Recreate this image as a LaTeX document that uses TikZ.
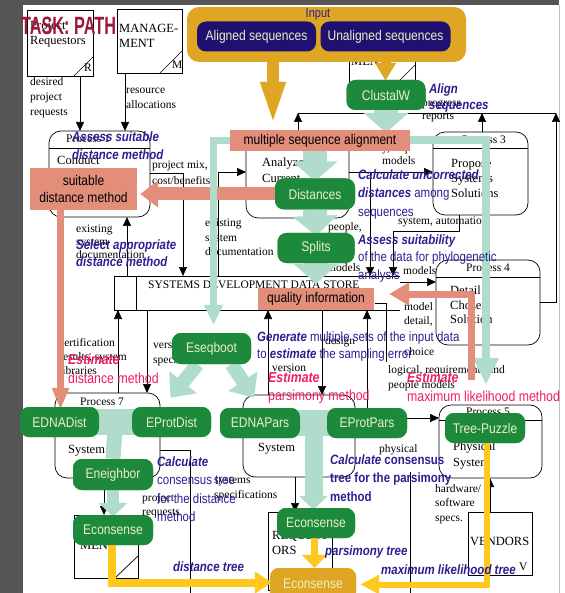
\documentclass[tikz,border=0pt]{standalone}
\usepackage{fontspec}
\setmainfont{Liberation Serif}
\newfontfamily\pillf[FakeStretch=0.86]{Liberation Sans}
\newfontfamily\condf[FakeStretch=0.85]{Liberation Sans}
\newfontfamily\titlef[FakeStretch=0.65]{Liberation Sans}
\usetikzlibrary{arrows.meta,calc}
\definecolor{navytxt}{RGB}{45,30,145}
\definecolor{pillnavy}{RGB}{32,16,112}
\definecolor{pillgreen}{RGB}{28,138,58}
\definecolor{pilltext}{RGB}{238,238,196}
\definecolor{salmonc}{RGB}{226,142,122}
\definecolor{tealc}{RGB}{176,220,204}
\definecolor{goldbox}{RGB}{222,166,34}
\definecolor{goldarrow}{RGB}{255,200,28}
\definecolor{magtxt}{RGB}{238,30,96}
\definecolor{titlered}{RGB}{160,22,56}
\definecolor{darkbg}{RGB}{85,85,85}
\begin{document}
\begin{tikzpicture}[x=1pt,y=-1pt,
  bgt/.style={font=\fontsize{11.5}{14}\selectfont, inner sep=0pt, anchor=west, align=left},
  bxt/.style={font=\fontsize{12.5}{15.5}\selectfont, inner sep=0pt, anchor=north west, align=left},
  ln/.style={line width=0.7pt, draw=black},
  fl/.style={ln, -{Triangle[length=9pt,width=8pt]}},
  proc/.style={ln, rounded corners=12pt},
  pill/.style={rounded corners=9pt, fill=pillgreen, text=pilltext, font=\pillf\fontsize{14}{16}\selectfont, inner sep=0pt, minimum height=30pt, minimum width=79pt},
  npill/.style={pill, fill=pillnavy},
  gpill/.style={pill, fill=goldbox},
  salbox/.style={fill=salmonc, text=black, font=\pillf\fontsize{14}{17}\selectfont, inner sep=0pt, align=center},
  lab/.style={text=navytxt, font=\condf\fontsize{13.5}{18}\selectfont, inner sep=0pt, anchor=north west, align=left},
  est/.style={text=magtxt, font=\condf\fontsize{14.5}{19}\selectfont, inner sep=0pt, anchor=north west, align=left},
  tfat/.style={draw=tealc, line width=24pt, -{Triangle[length=20pt,width=44pt]}},
  tdiag/.style={draw=tealc, line width=14pt, -{Triangle[length=20pt,width=34pt]}},
]
\useasboundingbox (0,0) rectangle (564,593);
\fill[white] (0,0) rectangle (564,593);
\fill[darkbg] (0,0) rectangle (23,593);
\fill[darkbg] (0,0) rectangle (559,5);
\draw[gray!50, line width=1pt] (559.5,5) -- (559.5,593);

% ---------------- background DFD ----------------
\draw[ln] (27,10) rectangle (93,76); \draw[ln] (74,76) -- (93,57);
\node[bgt] (tR) at (84,68) {R};
\node[bxt] (treq) at (30,21) {Project\\Requestors};
\draw[ln] (117,9) rectangle (182,73); \draw[ln] (160,73) -- (182,51);
\node[bgt] (tM) at (172,65) {M};
\node[bxt] (tman) at (119,24) {MANAGE-\\MENT};
\draw[ln] (349,30) rectangle (415,82); \draw[ln] (398,82) -- (415,65);
\node[bxt] (tman2) at (351,42) {MANAGE-\\MENT};

\draw[fl] (80,76) -- (80,131);
\draw[fl] (125,73) -- (125,131);
\node[bgt, anchor=north west, align=left, font=\fontsize{11.5}{15}\selectfont] (tdes) at (30,77) {desired\\project\\requests};
\node[bgt, anchor=north west, font=\fontsize{11.5}{14.5}\selectfont] (tres) at (126,88) {resource\\allocations};

\draw[proc] (49,131) rectangle (150,217); \draw[ln] (49,148) -- (150,148);
\node[bgt] (tp1) at (66,139) {Process 1};
\node[bxt] (tp1b) at (57,156) {Conduct\\Feasibility\\Study};
\draw[fl] (150,173) -- (183,173) -- (183,276);
\node[bgt, anchor=north west, font=\fontsize{11.5}{15.5}\selectfont] (tmix) at (152,161) {project mix,\\cost/benefits};
\draw[fl] (127,276) -- (127,217);
\node[bgt, anchor=north west, font=\fontsize{11.5}{13}\selectfont] (tex1) at (76,225) {existing\\system\\documentation};

\draw[proc] (246,131) rectangle (349,218); \draw[ln] (246,148) -- (349,148);
\node[bxt] (tp2b) at (262,158) {Analyze\\Current\\System};
\draw[fl] (218,276) -- (218,172) -- (246,172);
\node[bgt, anchor=north west, font=\fontsize{11.5}{14.5}\selectfont] (tex2) at (205,219) {existing\\system\\documentation};

\draw[proc] (433,132) rectangle (528,215); \draw[ln] (433,148) -- (528,148);
\node[bgt] (tp3) at (462,140) {Process 3};
\node[bxt, font=\fontsize{12.5}{15}\selectfont] (tp3b) at (451,159) {Propose\\Systems\\Solutions};

\draw[ln] (298,113) -- (556,113);
\draw[fl] (298,130) -- (298,113);
\draw[fl] (482,132) -- (482,113);
\draw[fl] (540,302) -- (556,302) -- (556,113);
\node[bgt, anchor=north west, font=\fontsize{11.5}{13}\selectfont] (tprog) at (422,100) {progress\\reports};

\draw[fl] (349,172) -- (433,172);
\node[bgt, anchor=north west, font=\fontsize{11.5}{13}\selectfont] (treqm) at (382,146) {y, req.\\models};
\draw[fl] (370,172) -- (370,276);
\draw[fl] (459,215) -- (459,231) -- (393,231) -- (393,276);
\node[bgt] (tpeople) at (328,228) {people,};
\node[bgt] (tsys) at (398,222) {system, automation};
\node[bgt] (tmod1) at (327,268) {models};
\node[bgt] (tmod2) at (403,271) {models};
\draw[fl] (400,282) -- (436,282);

\draw[proc] (436,260) rectangle (540,345); \draw[ln] (436,277) -- (540,277);
\node[bgt] (tp4) at (466,268) {Process 4};
\node[bxt, font=\fontsize{12.5}{14.5}\selectfont] (tp4b) at (450,286) {Detail\\Chosen\\Solution};

\draw[ln] (114,276) -- (400,276);
\draw[ln] (114,310) -- (400,310);
\draw[ln] (114,276) -- (114,310);
\draw[ln] (136,276) -- (136,310);
\node[bgt] (tds) at (148,285) {SYSTEMS DEVELOPMENT DATA STORE};

\draw[fl] (118,393) -- (118,310);
\draw[fl] (147,310) -- (147,393);
\node[bgt, anchor=north west] (tcert) at (59,338) {certification\\results, system\\libraries};
\node[bgt, anchor=north west, font=\fontsize{11.5}{15}\selectfont] (tver1) at (153,341) {version\\specs.};
\draw[fl] (268,395) -- (268,310);
\draw[fl] (322,310) -- (322,395);
\draw[fl] (367,418) -- (367,310);
\draw[ln] (375,303) -- (386,303) -- (386,362);
\node[bgt] (tver2) at (272,368) {version};
\node[bgt] (tdesign) at (325,342) {design};
\node[bgt, anchor=north west] (tmodel) at (404,302) {model\\detail,};
\node[bgt] (tchoice) at (404,352) {choice};
\node[bgt, anchor=north west, font=\fontsize{11.5}{15}\selectfont] (tlog) at (388,365) {logical, requirements and\\people models};

\draw[proc] (439,405) rectangle (542,478); \draw[ln] (439,420) -- (542,420);
\node[bgt] (tp5) at (466,412) {Process 5};
\node[bxt, font=\fontsize{12.5}{16}\selectfont] (tp5b) at (453,442) {Physical\\System};
\draw[fl] (355,418) -- (439,418);
\node[bgt] (tphys) at (379,450) {physical};
\draw[ln] (410,472) -- (410,593);
\node[bgt, anchor=north west, font=\fontsize{11.5}{14.5}\selectfont] (thw) at (435,484) {hardware/\\software\\specs.};
\draw[fl] (490,512) -- (490,478);
\draw[ln] (468,512) rectangle (532,575);
\node[bgt, font=\fontsize{12.5}{14}\selectfont] (tvend) at (470,541) {VENDORS};
\node[bgt] (tV) at (519,567) {V};

\draw[proc] (243,395) rectangle (355,477); \draw[ln] (243,411) -- (355,411);
\node[bxt] (tp6b) at (258,443) {System};
\draw[fl] (295,477) -- (295,512);
\draw[ln] (268,512) rectangle (332,590); \draw[ln] (312,590) -- (332,570);
\node[bxt, font=\fontsize{12.5}{15}\selectfont] (treq2) at (272,531) {REQUEST-\\ORS};

\draw[proc] (55,393) rectangle (160,478); \draw[ln] (55,411) -- (160,411);
\node[bgt] (tp7) at (80,402) {Process 7};
\node[bxt] (tp7b) at (68,445) {System};
\draw[ln] (160,450) -- (190,450) -- (190,593);
\draw[ln] (74,515) rectangle (138,578); \draw[ln] (115,578) -- (138,556);
\node[bxt, font=\fontsize{12.5}{15}\selectfont] (tman3) at (80,526) {MANAGE-\\MENT};
\draw[fl] (104,478) -- (104,515);
\node[bgt, anchor=north west, font=\fontsize{11.5}{13.5}\selectfont] (tpr) at (142,494) {project\\requests};
\node[bgt, anchor=north west, font=\fontsize{11.5}{15}\selectfont] (tspec) at (214,477) {systems\\specifications};

% ---------------- overlay nodes (positions) ----------------
\node[fill=goldbox, rounded corners=12pt, minimum width=279pt, minimum height=55pt, inner sep=0pt] (input) at (326.5,34.5) {};
\node[npill, minimum width=119pt] (aligned) at (256.5,36.5) {Aligned sequences};
\node[npill, minimum width=130pt] (unaligned) at (385.5,36.5) {Unaligned sequences};
\node[text=navytxt, font=\condf\fontsize{13}{14}\selectfont, inner sep=0pt] (inputlab) at (318,14) {Input};

\path (386,95) node[pill] (clustal) {ClustalW};
\path (320,140.5) node[salbox, minimum width=180pt, minimum height=21pt] (msa) {};
\path (83.5,189) node[salbox, minimum width=107pt, minimum height=42pt] (suitable) {};
\path (315,194) node[pill, minimum width=80pt, minimum height=31pt] (distances) {};
\path (316,248) node[pill, minimum width=77pt] (splits) {};
\path (316,299) node[salbox, minimum width=116pt, minimum height=22pt] (quality) {};
\path (211.5,348.5) node[pill, minimum height=31pt] (eseqboot) {};
\path (59.5,422) node[pill] (ednadist) {};
\path (171.5,422) node[pill] (eprotdist) {};
\path (260,423) node[pill, minimum width=80pt] (ednapars) {};
\path (367,423) node[pill, minimum width=80pt] (eprotpars) {};
\path (485,428) node[pill, minimum width=80pt] (treepuzzle) {};
\path (113,474.5) node[pill, minimum width=80pt, minimum height=31pt] (eneighbor) {};
\path (113,530) node[pill, minimum width=80pt] (econsL) {};
\path (316,523) node[pill, minimum width=78pt] (econsM) {};
\path (313,584) node[gpill, minimum width=86pt, minimum height=32pt] (econsB) {};

% ---------------- overlay connectors ----------------
% gold input arrows
\draw[goldbox, line width=12pt, -{Triangle[length=45pt,width=22pt]}] ($(input.south)+(-53.5,-2)$) -- ($(msa.north)+(-47,-3)$);
\draw[goldbox, line width=10pt, -{Triangle[length=18pt,width=20pt]}] ($(input.south)+(59,-3)$) -- ($(clustal.north)+(-0.5,1)$);
% teal
\draw[tfat] (clustal.south) -- ($(clustal.south |- msa.north)+(0,3)$);
\draw[tfat] (msa.south -| distances) -- ($(distances.north)+(0,3)$);
\draw[tfat] (distances.south) -- ($(splits.north)+(0,3)$);
\draw[tfat] (splits.south) -- ($(quality.north)+(0,-4)$);
\draw[draw=tealc, line width=8pt, -{Triangle[length=27pt,width=24pt]}] (msa.east) -| ($(treepuzzle.north)+(1,-28)$);
% salmon
\draw[salmonc, line width=13pt, -{Triangle[length=18pt,width=26pt]}] (distances.west) -- ($(suitable.east |- distances.west)+(3,0)$);
\coordinate (sdtop) at ($(suitable.south)+(-23,0)$);
\draw[salmonc, line width=6.5pt, -{Triangle[length=22pt,width=16pt]}] (sdtop) -- ($(sdtop |- ednadist.north)+(0,3)$);
\draw[salmonc, line width=7pt, -{Triangle[length=20pt,width=22pt]}] ($(treepuzzle.north)+(-14,-33)$) |- ($(quality.east)+(15,-5)$);
% teal to eseqboot and branches
\draw[draw=tealc, line width=7pt, -{Triangle[length=20pt,width=18pt]}] (msa.west) -| ($(eseqboot.north)+(2,-8)$);
\draw[tdiag] ($(eseqboot.south)+(-14,0)$) -- ($(eprotdist.north)+(-1,-9)$);
\draw[tdiag] ($(eseqboot.south)+(20,0)$) -- ($(ednapars.north)+(-6,-10)$);
\draw[tealc, line width=26pt] (ednadist.center) -- (eprotdist.center);
\draw[tealc, line width=15pt] ($(ednadist.center)!0.5!(eprotdist.center)$) -- (eneighbor.north);
\draw[draw=tealc, line width=12pt, -{Triangle[length=14pt,width=28pt]}] (eneighbor.south) -- ($(econsL.north)+(0,2)$);
\draw[tealc, line width=26pt] (ednapars.center) -- (eprotpars.center);
\draw[draw=tealc, line width=18pt, -{Triangle[length=14pt,width=28pt]}] ($(ednapars.center)!0.5!(eprotpars.center)$) -- ($(econsM.north)+(-2.5,2)$);
% gold output arrows
\draw[goldarrow, line width=7pt, -{Triangle[length=13pt,width=25pt]}] ($(econsM.south)+(-1.5,0)$) -- ($(econsB.north)+(1.5,0)$);
\draw[goldarrow, line width=8pt, -{Triangle[length=17pt,width=21pt]}] ($(econsL.south)+(-1,0)$) |- ($(econsB.west)+(2,-1.5)$);
\draw[goldarrow, line width=6pt, -{Triangle[length=19pt,width=18pt]}] ($(treepuzzle.south)+(2,0)$) |- ($(econsB.east)+(4,0.5)$);

% ---------------- overlay nodes (drawn on top) ----------------
\node[pill] at (clustal) {ClustalW};
\node[salbox, minimum width=180pt, minimum height=21pt] at (msa) {multiple sequence alignment};
\node[salbox, minimum width=107pt, minimum height=42pt] at (suitable) {suitable\\distance method};
\node[pill, minimum width=80pt, minimum height=31pt] at (distances) {Distances};
\node[pill, minimum width=77pt] at (splits) {Splits};
\node[salbox, minimum width=116pt, minimum height=22pt] at (quality) {quality information};
\node[pill, minimum height=31pt] at (eseqboot) {Eseqboot};
\node[pill] at (ednadist) {EDNADist};
\node[pill] at (eprotdist) {EProtDist};
\node[pill, minimum width=80pt] at (ednapars) {EDNAPars};
\node[pill, minimum width=80pt] at (eprotpars) {EProtPars};
\node[pill, minimum width=80pt] at (treepuzzle) {Tree-Puzzle};
\node[pill, minimum width=80pt, minimum height=31pt] at (eneighbor) {Eneighbor};
\node[pill, minimum width=80pt] at (econsL) {Econsense};
\node[pill, minimum width=78pt] at (econsM) {Econsense};
\node[gpill, minimum width=86pt, minimum height=32pt] at (econsB) {Econsense};

% ---------------- labels ----------------
\node[lab, font=\condf\fontsize{13.5}{16}\selectfont] (lalign) at (429,84) {\textbf{\textit{Align}}\\\textbf{\textit{sequences}}};
\node[lab] (lassess1) at (72,131.5) {\textbf{\textit{Assess suitable}}\\\textbf{\textit{distance method}}};
\node[lab, font=\condf\fontsize{13.5}{18.5}\selectfont] (lcalc1) at (358,169.5) {\textbf{\textit{Calculate uncorrected}}\\\textbf{\textit{distances}} among\\sequences};
\node[lab, font=\condf\fontsize{13.5}{17}\selectfont] (lselect) at (76,239.5) {\textbf{\textit{Select appropriate}}\\\textbf{\textit{distance method}}};
\node[lab, font=\condf\fontsize{13.5}{17.5}\selectfont] (lassess2) at (358,234.5) {\textbf{\textit{Assess suitability}}\\of the data for phylogenetic\\analysis};
\node[lab, font=\condf\fontsize{13.5}{17}\selectfont] (lgen) at (257,331.5) {\textbf{\textit{Generate}} multiple sets of the input data\\to \textbf{\textit{estimate}} the sampling error};
\node[lab, font=\condf\fontsize{13.5}{18.3}\selectfont] (lcalc2) at (157,456.5) {\textbf{\textit{Calculate}}\\consensus tree\\for the distance\\method};
\node[lab, font=\condf\fontsize{13.5}{18.5}\selectfont] (lcalc3) at (330,454.5) {\textbf{\textit{Calculate}} \textbf{consensus}\\\textbf{tree for the parsimony}\\\textbf{method}};
\node[lab] (ldist) at (173,561.5) {\textbf{\textit{distance tree}}};
\node[lab] (lpars) at (325,545.5) {\textbf{\textit{parsimony tree}}};
\node[lab] (lml) at (381,564.5) {\textbf{\textit{maximum likelihood tree}}};
\node[est] (le1) at (68,354) {\textbf{\textit{Estimate}}\\distance method};
\node[est, font=\condf\fontsize{14.5}{18}\selectfont] (le2) at (268,372) {\textbf{\textit{Estimate}}\\parsimony method};
\node[est] (le3) at (407,372) {\textbf{\textit{Estimate}}\\maximum likelihood method};

\node[anchor=west, text=titlered, font=\titlef\bfseries\fontsize{25}{25}\selectfont, inner sep=0pt] (title) at (21,26) {TASK: PATH};
\end{tikzpicture}
\end{document}
